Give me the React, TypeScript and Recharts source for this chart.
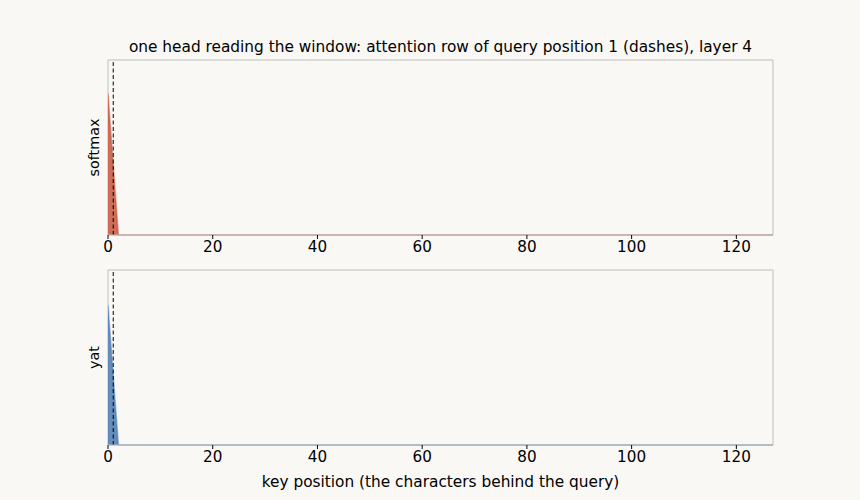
import React from 'react';
import { AreaChart, Area, XAxis, YAxis, ReferenceLine, ReferenceArea } from 'recharts';

// key positions (0..127); keys beyond the query are zero
const keyPositions = [0, 1, 2, 127];
const softmaxRow = [0.81, 0.405, 0, 0];
const yatRow = [0.8, 0.4, 0, 0];
const xTicks = [0, 20, 40, 60, 80, 100, 120];
const queryPos = 1;

const titleText = 'one head reading the window: attention row of query position 1 (dashes), layer 4';
const xLabelText = 'key position (the characters behind the query)';

const softData = keyPositions.map((k, i) => ({ k, v: softmaxRow[i] }));
const yatData = keyPositions.map((k, i) => ({ k, v: yatRow[i] }));

const FONT = 'DejaVu Sans, sans-serif';
const BG = '#f9f8f5';
const FRAME = '#bdbdbd';

function Panel({ data, top, color, label }: { data: any[]; top: number; color: string; label: string }) {
  const height = top + 175 + 35;
  return (
    <div style={{ position: 'absolute', left: 0, top: 0 }}>
      <AreaChart width={860} height={height} data={data} margin={{ top, right: 87, left: 88, bottom: 5 }}>
        <XAxis
          dataKey="k"
          type="number"
          domain={[0, 127]}
          ticks={xTicks}
          allowDataOverflow
          height={30}
          axisLine={{ stroke: FRAME }}
          tickLine={{ stroke: '#000' }}
          tickSize={4}
          tick={{ fill: '#000', fontSize: 15.2, fontFamily: FONT }}
        />
        <YAxis
          type="number"
          domain={[0, 1]}
          width={20}
          tick={false}
          tickLine={false}
          axisLine={false}
          label={(props: any) => {
            const vb = props.viewBox;
            const x = vb.x + vb.width - 9;
            const y = vb.y + vb.height / 2;
            return (
              <text x={x} y={y} transform={`rotate(-90 ${x} ${y})`} textAnchor="middle" fontSize={14.3} fontFamily={FONT} fill="#000">
                {label}
              </text>
            );
          }}
        />
        <ReferenceArea x1={0} x2={127} y1={0} y2={1} fill="none" stroke={FRAME} strokeWidth={1} />
        <Area
          dataKey="v"
          type="linear"
          isAnimationActive={false}
          fill={color}
          fillOpacity={0.85}
          stroke={color}
          strokeOpacity={0.45}
          strokeWidth={1.5}
          dot={false}
          activeDot={false}
        />
        <ReferenceLine x={queryPos} stroke="#000" strokeWidth={1} strokeDasharray="4 2.5" />
      </AreaChart>
    </div>
  );
}

export default function App() {
  return (
    <div style={{ position: 'absolute', left: 0, top: 0, width: 860, height: 500, background: BG, overflow: 'hidden' }}>
      <Panel data={softData} top={60} color="#c8553d" label="softmax" />
      <Panel data={yatData} top={270} color="#4a7ab4" label="yat" />
      <svg width={860} height={500} style={{ position: 'absolute', left: 0, top: 0, pointerEvents: 'none' }}>
        <text x={440.5} y={52} textAnchor="middle" fontSize={15.35} fontFamily={FONT} fill="#000">
          {titleText}
        </text>
        <text x={440.5} y={487} textAnchor="middle" fontSize={15.35} fontFamily={FONT} fill="#000">
          {xLabelText}
        </text>
      </svg>
    </div>
  );
}
